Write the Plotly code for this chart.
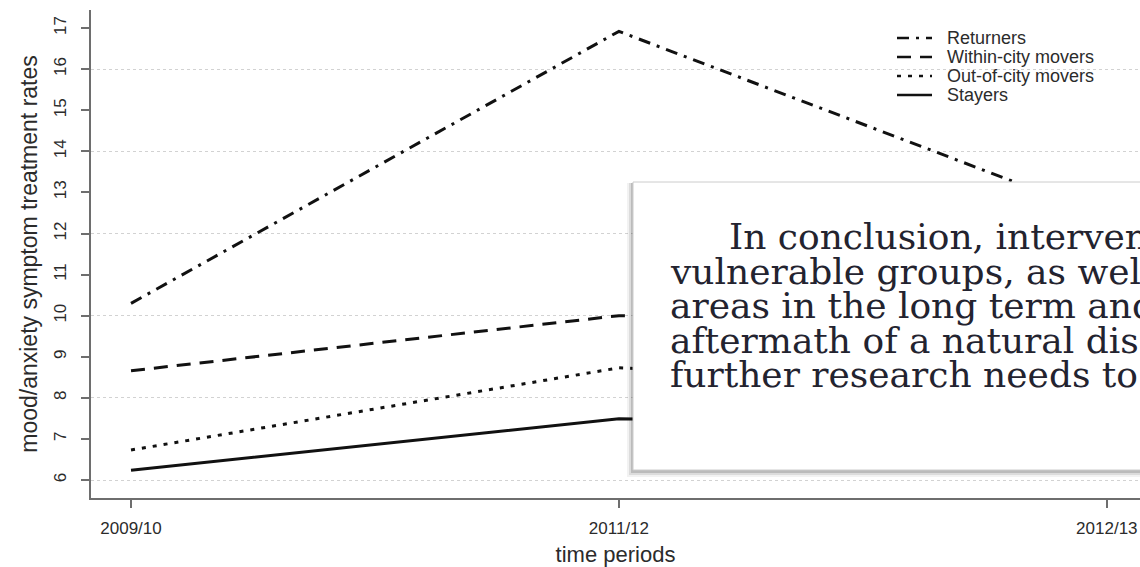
import plotly.graph_objects as go

# ---- data -------------------------------------------------------------
periods = ["2009/10", "2011/12", "2012/13"]
returners = [10.3, 16.92, 12.4]
within_city_movers = [8.66, 10.0, 9.7]
out_of_city_movers = [6.73, 8.73, 8.3]
stayers = [6.24, 7.49, 7.3]

series_names = ["Returners", "Within-city movers", "Out-of-city movers", "Stayers"]
series_values = [returners, within_city_movers, out_of_city_movers, stayers]
series_dash = ["12px,7px,3px,7px", "14px,9px", "4px,7px", "solid"]

y_ticks = list(range(6, 18))
grid_values = list(range(6, 18, 2))

box_lines = [
    "In conclusion, intervention",
    "vulnerable groups, as well",
    "areas in the long term and",
    "aftermath of a natural disaster",
    "further research needs to be",
]

# ---- geometry (pixels) -------------------------------------------------
W, H = 1140, 567
ML, MR, MT, MB = 91, 0, 10, 69
PW, PH = W - ML - MR, H - MT - MB


def px_x(px):
    return (px - ML) / PW


def px_y(py):
    return (H - MB - py) / PH


AXIS_COLOR = "#6e6e6e"
TEXT_COLOR = "#2b2b2b"
LINE_COLOR = "#111111"
SANS = "Liberation Sans, Arial, sans-serif"

fig = go.Figure()

for name, vals, dash in zip(series_names, series_values, series_dash):
    fig.add_trace(go.Scatter(
        x=periods, y=vals, name=name, mode="lines",
        line=dict(color=LINE_COLOR, width=3, dash=dash),
        hoverinfo="skip", showlegend=False,
    ))

# overlay axis carrying only the dotted reference grid
fig.add_trace(go.Scatter(x=periods, y=[None] * len(periods), yaxis="y2",
                         showlegend=False, hoverinfo="skip"))

fig.update_layout(
    width=W, height=H,
    margin=dict(l=ML, r=MR, t=MT, b=MB),
    paper_bgcolor="white", plot_bgcolor="white",
    font=dict(family=SANS, color=TEXT_COLOR),
    showlegend=False,
    xaxis=dict(
        type="category", range=[-0.082, 2.068],
        showgrid=False, zeroline=False,
        showline=True, linecolor=AXIS_COLOR, linewidth=1.5,
        ticks="outside", ticklen=8, tickcolor=AXIS_COLOR, tickwidth=1.5,
        ticklabelstandoff=6,
        tickfont=dict(size=17, color=TEXT_COLOR),
        title=dict(text="time periods", font=dict(size=22, color=TEXT_COLOR), standoff=10),
        automargin=False,
    ),
    yaxis=dict(
        range=[5.562, 17.44], tickvals=y_ticks, ticktext=[str(v) for v in y_ticks],
        showgrid=False, zeroline=False,
        showline=True, linecolor=AXIS_COLOR, linewidth=1.5,
        ticks="outside", ticklen=8, tickcolor=AXIS_COLOR, tickwidth=1.5,
        tickangle=-90, ticklabelstandoff=8,
        tickfont=dict(size=17, color=TEXT_COLOR),
        title=dict(text="mood/anxiety symptom treatment rates",
                   font=dict(size=23, color=TEXT_COLOR), standoff=7),
        automargin=False,
    ),
    yaxis2=dict(
        overlaying="y", range=[5.562, 17.44], tickvals=grid_values,
        showticklabels=False, showline=False, zeroline=False, ticks="",
        showgrid=True, gridcolor="#d2d2d2", gridwidth=1, griddash="dot",
        layer="below traces",
    ),
)

# legend key: sample segment + label for each series
key_x0, key_x1, key_text_x = 897, 932, 945
key_rows = [38, 57, 76, 95]
for name, dash, ry in zip(series_names, series_dash, key_rows):
    fig.add_shape(type="line", xref="paper", yref="paper",
                  x0=px_x(key_x0), x1=px_x(key_x1), y0=px_y(ry), y1=px_y(ry),
                  line=dict(color=LINE_COLOR, width=2.5, dash=dash))
    fig.add_annotation(xref="paper", yref="paper", x=px_x(key_text_x), y=px_y(ry),
                       xanchor="left", yanchor="middle", showarrow=False, text=name,
                       font=dict(family=SANS, size=18, color=TEXT_COLOR))

# text panel with a soft drop shadow
bx0, by0, bx1, by1 = 633, 182, 1160, 470
shadow_steps = [(6, 7, "rgba(0,0,0,0.05)"), (4, 5, "rgba(0,0,0,0.09)"), (2, 3, "rgba(0,0,0,0.15)")]
for dx, dy, col in shadow_steps:
    fig.add_shape(type="rect", xref="paper", yref="paper",
                  x0=px_x(bx0 - dx), x1=px_x(bx1), y0=px_y(by1 + dy), y1=px_y(by0 + 1),
                  fillcolor=col, line=dict(width=0), layer="above")
fig.add_shape(type="rect", xref="paper", yref="paper",
              x0=px_x(bx0), x1=px_x(bx1), y0=px_y(by1), y1=px_y(by0),
              fillcolor="white", line=dict(color="#cccccc", width=1), layer="above")

line_left = 668
first_indent = 59
line_centers = [236, 271, 305, 340, 374]
for i, (txt, cy) in enumerate(zip(box_lines, line_centers)):
    fig.add_annotation(
        xref="paper", yref="paper",
        x=px_x(line_left + (first_indent if i == 0 else 0)), y=px_y(cy),
        xanchor="left", yanchor="middle", showarrow=False, text=txt,
        font=dict(family="DejaVu Serif, serif", size=36, color="#23232f"),
    )

fig.write_html("out.html")
